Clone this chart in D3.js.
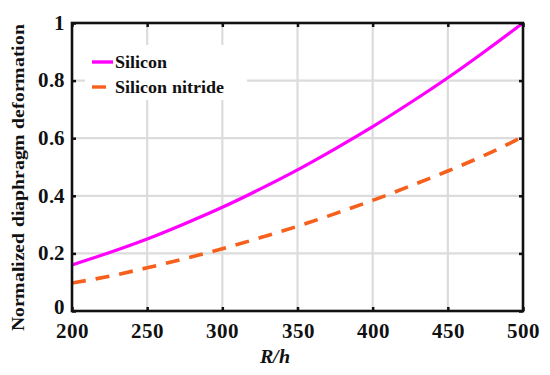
<!DOCTYPE html>
<html><head><meta charset="utf-8">
<script src="https://cdn.jsdelivr.net/npm/d3@7"></script>
<style>
@font-face{font-family:"RefSerif";src:local("Liberation Serif Bold"),local("LiberationSerif-Bold");font-weight:bold;font-style:normal}
@font-face{font-family:"RefSerif";src:local("Liberation Serif Bold Italic"),local("LiberationSerif-BoldItalic");font-weight:bold;font-style:italic}
</style>
</head><body><svg id="c" width="550" height="375" style="position:absolute;left:0;top:0"></svg>
<script>
const xValues = [200,225,250,275,300,325,350,375,400,425,450,475,500];
const silicon = [0.16,0.203,0.25,0.303,0.36,0.423,0.49,0.563,0.64,0.723,0.81,0.903,1.0];
const siliconNitride = [0.097,0.121,0.15,0.182,0.216,0.254,0.294,0.338,0.384,0.434,0.486,0.542,0.605];
const xTicks = [200,250,300,350,400,450,500];
const yTicks = [0,0.2,0.4,0.6,0.8,1];
const yTickLabels = ["0","0.2","0.4","0.6","0.8","1"];
const seriesNames = ["Silicon","Silicon nitride"];

const FF = '"RefSerif", "Liberation Serif", "Nimbus Roman", "FreeSerif", "Tinos", "Times New Roman", serif';
const svg = d3.select("#c");
const L=72,R=523,T=23,B=311;
const x = d3.scaleLinear().domain([200,500]).range([L,R]);
const y = d3.scaleLinear().domain([0,1]).range([B,T]);

svg.append("g").selectAll("line").data(xTicks.slice(1,-1)).join("line")
  .attr("x1",d=>x(d)).attr("x2",d=>x(d)).attr("y1",T).attr("y2",B)
  .attr("stroke","#dcdcdc").attr("stroke-width",2.2);
svg.append("g").selectAll("line").data(yTicks.slice(1,-1)).join("line")
  .attr("y1",d=>y(d)).attr("y2",d=>y(d)).attr("x1",L).attr("x2",R)
  .attr("stroke","#dcdcdc").attr("stroke-width",2.2);

svg.append("clipPath").attr("id","pc").append("rect")
  .attr("x",L).attr("y",T-3).attr("width",R-L+3).attr("height",B-T+3);

const line = d3.line().x((d,i)=>x(xValues[i])).y(d=>y(d)).curve(d3.curveMonotoneX);
svg.append("path").datum(siliconNitride).attr("d",line).attr("fill","none")
  .attr("stroke","#f75f1c").attr("stroke-width",3.6).attr("stroke-dasharray","14,10")
  .attr("clip-path","url(#pc)");
svg.append("path").datum(silicon).attr("d",line).attr("fill","none")
  .attr("stroke","#ff00ff").attr("stroke-width",3.2).attr("clip-path","url(#pc)");

svg.append("rect").attr("x",85).attr("y",45).attr("width",162).attr("height",55).attr("fill","#fff");
const lg = svg.append("g");
[[62,"#ff00ff"],[87,"#f75f1c"]].forEach((e,i)=>{
  lg.append("line").attr("x1",92).attr("x2",113).attr("y1",e[0]).attr("y2",e[0])
    .attr("stroke",e[1]).attr("stroke-width",3.4).attr("stroke-dasharray",i?"14,20":null);
  lg.append("text").attr("x",115).attr("y",e[0]+6).text(seriesNames[i])
    .style("font-family",FF).style("font-weight","bold").style("font-size","18px").style("fill","#111");
});

const xa = d3.axisBottom(x).tickValues(xTicks).tickSize(-4).tickPadding(10).tickFormat(d3.format("d"));
const ya = d3.axisLeft(y).tickValues(yTicks).tickSize(-4).tickPadding(7).tickFormat((d,i)=>yTickLabels[i]);
const gx = svg.append("g").attr("transform",`translate(0,${B})`).call(xa);
const gy = svg.append("g").attr("transform",`translate(${L},0)`).call(ya);
const gx2 = svg.append("g").attr("transform",`translate(0,${T})`).call(d3.axisTop(x).tickValues(xTicks).tickSize(-4).tickFormat(""));
const gy2 = svg.append("g").attr("transform",`translate(${R},0)`).call(d3.axisRight(y).tickValues(yTicks).tickSize(-4).tickFormat(""));
[gx,gy,gx2,gy2].forEach(g=>{
  g.attr("font-family",FF).attr("font-size",21).attr("font-weight","bold");
  g.select(".domain").remove();
  g.selectAll(".tick line").attr("stroke","#111").attr("stroke-width",2.5);
  g.selectAll("text").style("font-family",FF).style("font-weight","bold").style("font-size","21px").style("fill","#111");
});
gy.selectAll("text").attr("dy",d=>d===0?"0.12em":"0.30em");
gx.selectAll("text").attr("dy","0.80em");

svg.append("rect").attr("x",L).attr("y",T).attr("width",R-L).attr("height",B-T)
  .attr("fill","none").attr("stroke","#111").attr("stroke-width",2.6);

svg.append("text").attr("x",275).attr("y",363).attr("text-anchor","middle")
  .style("font-family",FF).style("font-weight","bold").style("font-style","italic").style("font-size","20px")
  .style("fill","#111").text("R/h");
svg.append("text").attr("transform","translate(24,178) rotate(-90)").attr("text-anchor","middle")
  .style("font-family",FF).style("font-weight","bold").style("font-size","18px").style("fill","#111")
  .attr("textLength",307).attr("lengthAdjust","spacingAndGlyphs")
  .text("Normalized diaphragm deformation");
</script></body></html>
